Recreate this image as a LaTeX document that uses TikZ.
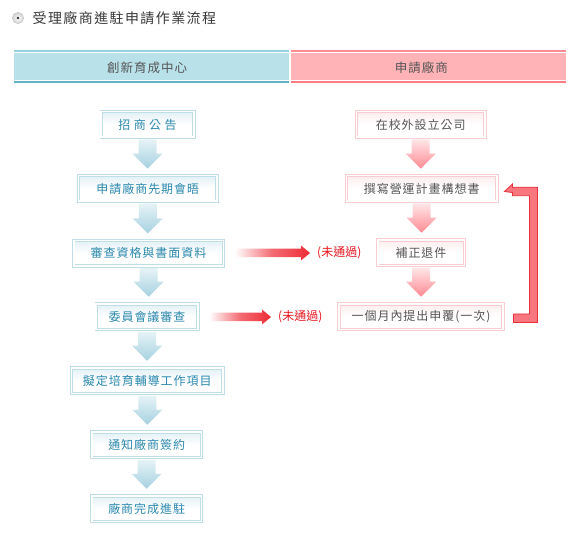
\documentclass[tikz,border=0pt]{standalone}
\usepackage{fontspec}
\setmainfont{Noto Sans CJK TC}
\newfontfamily\boxfont[LetterSpace=8]{Noto Sans CJK TC}
\newfontfamily\wideboxfont[LetterSpace=28]{Noto Sans CJK TC}
\newfontfamily\titlefont[LetterSpace=10]{Noto Sans CJK TC}
\usetikzlibrary{calc}
\definecolor{bluetxt}{HTML}{2A88AD}
\definecolor{blueline}{HTML}{BFDFE8}
\definecolor{bluetop}{HTML}{E2F0F5}
\definecolor{pinkline}{HTML}{F8CCD0}
\definecolor{pinktop}{HTML}{FDECEE}
\definecolor{greytxt}{HTML}{555555}
\definecolor{hbtop}{HTML}{95D1DD}
\definecolor{hbfill}{HTML}{B9E1E9}
\definecolor{hbbot}{HTML}{62B2C5}
\definecolor{hptop}{HTML}{FF8C93}
\definecolor{hpfill}{HTML}{FFB3B7}
\definecolor{hpbot}{HTML}{FF7B83}
\definecolor{arrred}{HTML}{EE2B36}
\definecolor{labred}{HTML}{E8141E}
\definecolor{fbfill}{HTML}{F8777F}
\definecolor{fbline}{HTML}{E8303C}
\definecolor{barrtop}{HTML}{E6F3F7}
\definecolor{barrbot}{HTML}{A6D1E0}
\definecolor{parrtop}{HTML}{FFE6E8}
\definecolor{parrbot}{HTML}{FF8A92}
\tikzset{
  boxbase/.style={rectangle, inner sep=0pt, minimum height=25.6pt, line width=0.9pt,
    double distance=1.6pt, double=white, font={\boxfont\fontsize{12}{14}\selectfont}},
  bluebox/.style={boxbase, draw=blueline, top color=bluetop, bottom color=white, middle color=white, text=bluetxt},
  pinkbox/.style={boxbase, draw=pinkline, top color=pinktop, bottom color=white, middle color=white, text=greytxt},
  bluearr/.style={top color=barrtop, bottom color=barrbot},
  pinkarr/.style={top color=parrtop, bottom color=parrbot},
  redarr/.style={left color=white, right color=arrred, middle color=arrred!70!white},
  nolabel/.style={inner sep=0pt, anchor=west, text=labred, font=\fontsize{12}{14}\selectfont},
  headtext/.style={inner sep=0pt, text=greytxt, font={\boxfont\fontsize{12.5}{14}\selectfont}},
}
\newcommand\vdown[3]{%
  \shade[#3] let \p1=(#1.south), \p2=(#2.north) in
    (\x1-9pt,\y1-1.7pt) -- (\x1-9pt,\y2+21.7pt) -- (\x1-15pt,\y2+21.7pt) --
    (\x1,\y2+6.7pt) -- (\x1+15pt,\y2+21.7pt) -- (\x1+9pt,\y2+21.7pt) --
    (\x1+9pt,\y1-1.7pt) -- cycle;}
\newcommand\hred[2]{%
  \shade[redarr] let \p1=(#1.east), \p2=(#2.west) in
    (\x1+11pt,\y2+4.25pt) -- (\x2-16pt,\y2+4.25pt) -- (\x2-16pt,\y2+7.5pt) --
    (\x2-7pt,\y2) -- (\x2-16pt,\y2-7.5pt) -- (\x2-16pt,\y2-4.25pt) --
    (\x1+11pt,\y2-4.25pt) -- cycle;}
\begin{document}
\begin{tikzpicture}[x=1pt,y=-1pt]
\useasboundingbox[fill=white] (0,0) rectangle (587,540);
% title
\shade[inner color=white, outer color=black!18, draw=black!22, line width=0.6pt] (18,18) circle (5.6);
\fill[black!80] (18,18) circle (1.3);
\node[inner sep=0pt, anchor=west, text=black!78, font={\titlefont\fontsize{14}{16}\selectfont}] (title) at (32.5,18.3) {受理廠商進駐申請作業流程};
% header bars
\fill[hbtop] (14,50) rectangle (288.6,52);
\fill[hbfill] (14,53) rectangle (288.6,80.2);
\fill[hbbot] (14,80.8) rectangle (288.6,82.8);
\fill[hptop] (290.7,50) rectangle (566,52);
\fill[hpfill] (290.7,53) rectangle (566,80.2);
\fill[hpbot] (290.7,80.8) rectangle (566,82.8);
\node[headtext] (hl) at (147,67.6) {創新育成中心};
\node[headtext] (hr) at (421.3,67.6) {申請廠商};
% left column
\node[bluebox, minimum width=92.6pt, font={\wideboxfont\fontsize{12}{14}\selectfont}] (b1) at (147.5,124.5) {招商公告};
\node[bluebox, minimum width=138.6pt] (b2) at (147.8,188.5) {申請廠商先期會晤};
\node[bluebox, minimum width=149.6pt] (b3) at (148.5,253.3) {審查資格與書面資料};
\node[bluebox, minimum width=101.6pt] (b4) at (147,316.7) {委員會議審查};
\node[bluebox, minimum width=151.6pt] (b5) at (147.3,380.7) {擬定培育輔導工作項目};
\node[bluebox, minimum width=109.9pt] (b6) at (146.7,444.7) {通知廠商簽約};
\node[bluebox, minimum width=109.9pt] (b7) at (146.7,508.7) {廠商完成進駐};
% right column
\node[pinkbox, minimum width=128.6pt] (r1) at (420.7,124.5) {在校外設立公司};
\node[pinkbox, minimum width=150.6pt] (r2) at (421.7,188.5) {撰寫營運計畫構想書};
\node[pinkbox, minimum width=86.6pt] (r3) at (421,252.7) {補正退件};
\node[pinkbox, minimum width=164pt] (r4) at (421,316.7) {一個月內提出申覆(一次)};
% labels
\node[nolabel] (n3) at (317,253) {(未通過)};
\node[nolabel] (n4) at (278,317) {(未通過)};
% down arrows
\vdown{b1}{b2}{bluearr}
\vdown{b2}{b3}{bluearr}
\vdown{b3}{b4}{bluearr}
\vdown{b4}{b5}{bluearr}
\vdown{b5}{b6}{bluearr}
\vdown{b6}{b7}{bluearr}
\vdown{r1}{r2}{pinkarr}
\vdown{r2}{r3}{pinkarr}
\vdown{r3}{r4}{pinkarr}
% red arrows
\hred{b3}{n3}
\hred{b4}{n4}
% feedback arrow
\filldraw[fill=fbfill, draw=fbline, line width=0.8pt]
  let \p1=(r4.east), \p2=(r2.east) in
  (\x1+10pt,\y1+2.75pt) -- (\x1+26pt,\y1+2.75pt) -- (\x1+26pt,\y2-7.25pt) --
  (\x2+15pt,\y2-7.25pt) -- (\x2+15pt,\y2-4pt) -- (\x2+7pt,\y2-3pt) --
  (\x2+15pt,\y2+4.5pt) -- (\x2+15pt,\y2+1.25pt) -- (\x1+34pt,\y2+1.25pt) --
  (\x1+34pt,\y1-5.75pt) -- (\x1+10pt,\y1-5.75pt) -- cycle;
\end{tikzpicture}
\end{document}
